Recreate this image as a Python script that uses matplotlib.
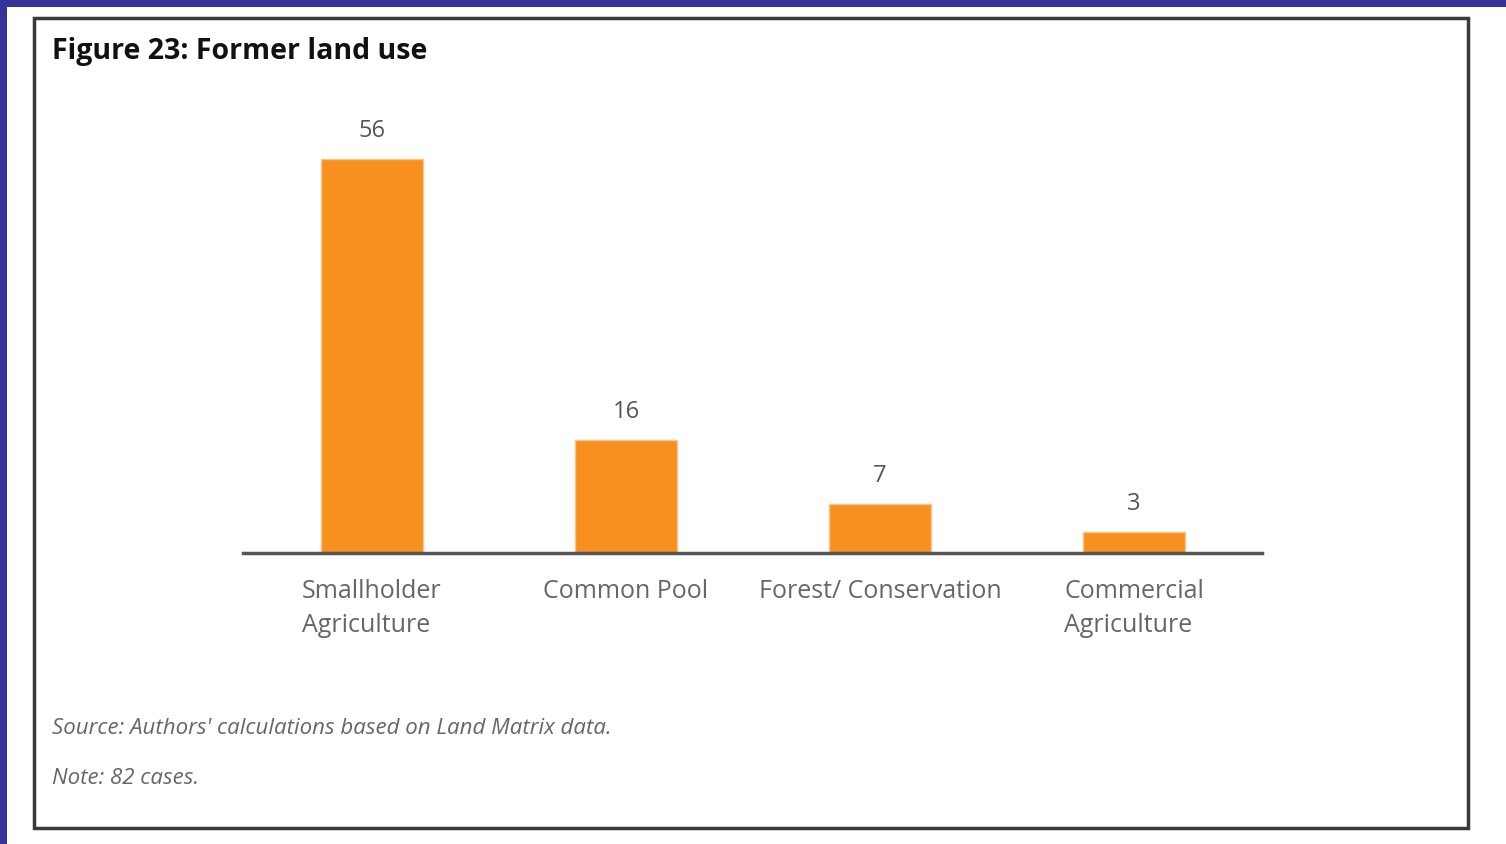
import matplotlib
matplotlib.use("Agg")
import matplotlib.pyplot as plt
from matplotlib.patches import Rectangle

categories = ["Smallholder\nAgriculture", "Common Pool", "Forest/ Conservation", "Commercial\nAgriculture"]
values = [56, 16, 7, 3]
title = "Figure 23: Former land use"
source = "Source: Authors' calculations based on Land Matrix data."
note = "Note: 82 cases."

W, H = 1506, 844
fig = plt.figure(figsize=(W / 100, H / 100), dpi=100)
fig.patch.set_facecolor("white")
plt.rcParams['font.family'] = ['Open Sans', 'DejaVu Sans']

# blue page edges and the boxed frame around the figure
fig.add_artist(Rectangle((0, 1 - 7 / H), 1, 7 / H, transform=fig.transFigure,
                         facecolor="#35339A", edgecolor="none", zorder=-5))
fig.add_artist(Rectangle((0, 0), 7 / W, 1, transform=fig.transFigure,
                         facecolor="#35339A", edgecolor="none", zorder=-5))
fig.add_artist(Rectangle((34 / W, 1 - 828 / H), (1468 - 34) / W, (828 - 18) / H,
                         transform=fig.transFigure, facecolor="white",
                         edgecolor="#3a3a3a", linewidth=2.5, zorder=-5))

ax = fig.add_axes([243 / W, 291 / H, (1262 - 243) / W, (553 - 130.6) / H])
x = range(len(values))
bars = ax.bar(x, values, width=0.405, color="#F7901E", edgecolor="#FBC58A", linewidth=1)
ax.set_xlim(-0.508, 3.504)
ax.set_ylim(0, 60)

for b, v in zip(bars, values):
    ax.text(b.get_x() + b.get_width() / 2, v + 2.3, str(v), ha="center", va="bottom",
            fontsize=17, color="#555555")

ax.set_xticks(list(x))
ax.set_xticklabels(categories, fontsize=18, color="#666666", multialignment="left",
                   linespacing=1.45)
ax.tick_params(axis="x", length=0, pad=19)
ax.set_yticks([])
for s in ["top", "left", "right"]:
    ax.spines[s].set_visible(False)
ax.spines["bottom"].set_color("#555555")
ax.spines["bottom"].set_linewidth(2.5)
ax.set_facecolor("none")

fig.text(52 / W, 1 - 52 / H, title, fontsize=20.5, fontweight="bold", color="#111111",
         va="center", ha="left")
fig.text(52 / W, 1 - 728 / H, source, fontsize=16, style="italic", color="#666666",
         va="center", ha="left")
fig.text(52 / W, 1 - 778 / H, note, fontsize=16, style="italic", color="#666666",
         va="center", ha="left")

fig.savefig("out.png", dpi=100)
